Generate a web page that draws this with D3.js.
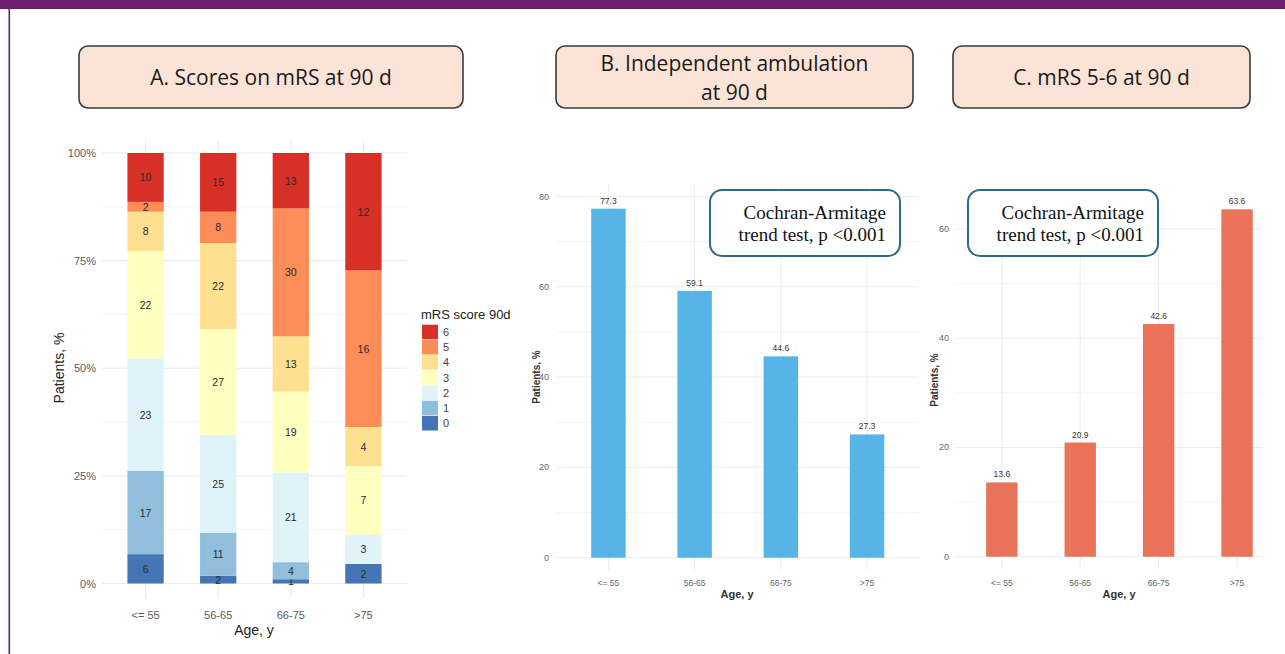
<!DOCTYPE html>
<html>
<head>
<meta charset="utf-8">
<script src="https://cdn.jsdelivr.net/npm/d3@7"></script>
<style>
  html, body { margin: 0; padding: 0; background: #fff; }
  svg { display: block; }
</style>
</head>
<body>
<svg id="fig" width="1285" height="654"></svg>
<script>
// Age groups shared by all three panels
const ageGroups = ["<= 55", "56-65", "66-75", ">75"];

// Panel A: patient counts per mRS score at 90 d, one array per score (by age group)
const mrsLevels = ["0", "1", "2", "3", "4", "5", "6"];
const mrs0 = [6, 2, 1, 2];
const mrs1 = [17, 11, 4, 0];
const mrs2 = [23, 25, 21, 3];
const mrs3 = [22, 27, 19, 7];
const mrs4 = [8, 22, 13, 4];
const mrs5 = [2, 8, 30, 16];
const mrs6 = [10, 15, 13, 12];
const mrsColors = ["#4575b4", "#91bfdb", "#e0f3f8", "#ffffbf", "#fee090", "#fc8d59", "#d73027"];

// Panel B: independent ambulation (%), panel C: mRS 5-6 (%)
const ambulationPct = [77.3, 59.1, 44.6, 27.3];
const poorOutcomePct = [13.6, 20.9, 42.6, 63.6];

const yTicksA = [0, 25, 50, 75, 100];
const yTicksB = [0, 20, 40, 60, 80];
const yTicksC = [0, 20, 40, 60];

const svg = d3.select("#fig");
const sans = "'Liberation Sans', Arial, sans-serif";

// Page frame
svg.append("rect").attr("x", 0).attr("y", 0).attr("width", 1285).attr("height", 9).attr("fill", "#6b1f6e");
svg.append("rect").attr("x", 8.5).attr("y", 0).attr("width", 1.6).attr("height", 654).attr("fill", "#6b1f6e");

// Panel header boxes
function header(x, y, w, h, lines) {
  const g = svg.append("g");
  g.append("rect").attr("x", x).attr("y", y).attr("width", w).attr("height", h)
    .attr("rx", 9).attr("fill", "#fbe4d7").attr("stroke", "#3a3a3a").attr("stroke-width", 1.6);
  const cy = y + h / 2;
  const lh = 29;
  lines.forEach((t, i) => {
    g.append("text").attr("x", x + w / 2).attr("y", cy + (i - (lines.length - 1) / 2) * lh)
      .attr("text-anchor", "middle").attr("dominant-baseline", "central")
      .style("font-family", "'Open Sans', sans-serif").style("font-size", "21px").attr("fill", "#1a1a1a")
      .text(t);
  });
}
header(79, 46, 384, 62, ["A. Scores on mRS at 90 d"]);
header(556, 46, 357, 62, ["B. Independent ambulation", "at 90 d"]);
header(953, 46, 297, 62, ["C. mRS 5-6 at 90 d"]);

// ---------- Panel A: stacked percentage bars ----------
(function () {
  const x = d3.scaleLinear().domain([0.4, 4.6]).range([102, 407]);
  const y = d3.scaleLinear().domain([0, 100]).range([583.5, 153]);
  const step = x(2) - x(1);
  const bw = step * 0.5;
  const g = svg.append("g");

  // grid
  d3.range(12.5, 100, 25).forEach(v => g.append("line").attr("x1", 102).attr("x2", 407)
    .attr("y1", y(v)).attr("y2", y(v)).attr("stroke", "#f3f3f3").attr("stroke-width", 0.8));
  yTicksA.forEach(v => g.append("line").attr("x1", 102).attr("x2", 407)
    .attr("y1", y(v)).attr("y2", y(v)).attr("stroke", "#ebebeb").attr("stroke-width", 1.1));
  ageGroups.forEach((a, i) => g.append("line").attr("x1", x(i + 1)).attr("x2", x(i + 1))
    .attr("y1", 140).attr("y2", 598).attr("stroke", "#ebebeb").attr("stroke-width", 1.1));

  const series = [mrs0, mrs1, mrs2, mrs3, mrs4, mrs5, mrs6];
  ageGroups.forEach((a, i) => {
    const total = d3.sum(series, s => s[i]);
    let cum = 0;
    series.forEach((s, k) => {
      const n = s[i];
      if (n === 0) return;
      const p0 = cum / total * 100, p1 = (cum + n) / total * 100;
      cum += n;
      g.append("rect").attr("x", x(i + 1) - bw / 2).attr("width", bw)
        .attr("y", y(p1)).attr("height", y(p0) - y(p1)).attr("fill", mrsColors[k]);
      g.append("text").attr("x", x(i + 1)).attr("y", y((p0 + p1) / 2))
        .attr("text-anchor", "middle").attr("dominant-baseline", "central")
        .style("font-family", sans).style("font-size", "10.5px").attr("fill", "#2b2b2b").text(n);
    });
  });

  // axes
  yTicksA.forEach(v => g.append("text").attr("x", 96).attr("y", y(v)).attr("text-anchor", "end")
    .attr("dominant-baseline", "central").style("font-family", sans).style("font-size", "11px")
    .attr("fill", "#5a5a5a").text(v + "%"));
  ageGroups.forEach((a, i) => g.append("text").attr("x", x(i + 1)).attr("y", 615).attr("text-anchor", "middle")
    .attr("dominant-baseline", "central").style("font-family", sans).style("font-size", "11px")
    .attr("fill", "#5a5a5a").text(a));
  g.append("text").attr("x", 254).attr("y", 630).attr("text-anchor", "middle").attr("dominant-baseline", "central")
    .style("font-family", sans).style("font-size", "14px").attr("fill", "#222").text("Age, y");
  g.append("text").attr("transform", "translate(59,368) rotate(-90)").attr("text-anchor", "middle")
    .attr("dominant-baseline", "central").style("font-family", sans).style("font-size", "14px")
    .attr("fill", "#222").text("Patients, %");

  // legend
  const lg = svg.append("g");
  lg.append("text").attr("x", 421).attr("y", 314).attr("dominant-baseline", "central")
    .style("font-family", sans).style("font-size", "13px").attr("fill", "#222").text("mRS score 90d");
  const keys = mrsLevels.slice().reverse();
  keys.forEach((lv, j) => {
    const cy = 332 + j * 15.2;
    lg.append("rect").attr("x", 422).attr("y", cy - 7.3).attr("width", 16).attr("height", 14.6)
      .attr("fill", mrsColors[mrsLevels.indexOf(lv)]);
    lg.append("text").attr("x", 443).attr("y", cy).attr("dominant-baseline", "central")
      .style("font-family", sans).style("font-size", "11px").attr("fill", "#444").text(lv);
  });
})();

// ---------- Simple bar panels (B and C) ----------
function barPanel(opts) {
  const { values, color, xRange, yDomain, yRange, ticks, gridRight, tickX, titleX, titleY, ageX, boxX } = opts;
  const x = d3.scaleLinear().domain([0.4, 4.6]).range(xRange);
  const y = d3.scaleLinear().domain(yDomain).range(yRange);
  const step = x(2) - x(1);
  const bw = step * 0.4;
  const g = svg.append("g");
  const gl = xRange[0], gr = gridRight;
  const top = y(yDomain[1]) - 12;

  const maxT = ticks[ticks.length - 1];
  d3.range(ticks[1] / 2, maxT + ticks[1] / 2 + 0.01, ticks[1]).forEach(v => {
    if (y(v) < top) return;
    g.append("line").attr("x1", gl).attr("x2", gr).attr("y1", y(v)).attr("y2", y(v))
      .attr("stroke", "#f3f3f3").attr("stroke-width", 0.8);
  });
  ticks.forEach(v => g.append("line").attr("x1", gl).attr("x2", gr).attr("y1", y(v)).attr("y2", y(v))
    .attr("stroke", "#ececec").attr("stroke-width", 1));
  ageGroups.forEach((a, i) => g.append("line").attr("x1", x(i + 1)).attr("x2", x(i + 1))
    .attr("y1", top).attr("y2", yRange[0] + 12).attr("stroke", "#ececec").attr("stroke-width", 1));

  values.forEach((v, i) => {
    g.append("rect").attr("x", x(i + 1) - bw / 2).attr("width", bw).attr("y", y(v))
      .attr("height", y(0) - y(v)).attr("fill", color);
    g.append("text").attr("x", x(i + 1)).attr("y", y(v) - 5).attr("text-anchor", "middle")
      .style("font-family", sans).style("font-size", "8.5px").attr("fill", "#333").text(v.toFixed(1));
  });

  ticks.forEach(v => g.append("text").attr("x", tickX).attr("y", y(v)).attr("text-anchor", "end")
    .attr("dominant-baseline", "central").style("font-family", sans).style("font-size", "9px")
    .attr("fill", "#666").text(v));
  ageGroups.forEach((a, i) => g.append("text").attr("x", x(i + 1)).attr("y", 583).attr("text-anchor", "middle")
    .attr("dominant-baseline", "central").style("font-family", sans).style("font-size", "8.5px")
    .attr("fill", "#666").text(a));
  g.append("text").attr("x", ageX).attr("y", 594).attr("text-anchor", "middle").attr("dominant-baseline", "central")
    .style("font-family", sans).style("font-size", "11px").style("font-weight", "bold").attr("fill", "#333")
    .text("Age, y");
  g.append("text").attr("transform", `translate(${titleX},${titleY}) rotate(-90)`).attr("text-anchor", "middle")
    .attr("dominant-baseline", "central").style("font-family", sans).style("font-size", "10px")
    .style("font-weight", "bold").attr("fill", "#333").text("Patients, %");

  // trend test annotation
  const bx = boxX, by = 190, bwid = 190, bh = 66;
  g.append("rect").attr("x", bx).attr("y", by).attr("width", bwid).attr("height", bh).attr("rx", 12)
    .attr("fill", "#fff").attr("stroke", "#2d6a8c").attr("stroke-width", 2);
  [["Cochran-Armitage", 212], ["trend test, p <0.001", 234]].forEach(([t, cy]) =>
    g.append("text").attr("x", bx + 176).attr("y", cy).attr("text-anchor", "end")
      .attr("dominant-baseline", "central").style("font-family", "'Liberation Serif', 'Times New Roman', serif")
      .style("font-size", "19px").attr("fill", "#111").text(t));
}

barPanel({
  values: ambulationPct, color: "#56b4e7",
  xRange: [556.7, 918.8], yDomain: [0, 80], yRange: [557.7, 196.5], ticks: yTicksB,
  gridRight: 918.8, tickX: 549, titleX: 536, titleY: 377, ageX: 737, boxX: 710
});
barPanel({
  values: poorOutcomePct, color: "#e87358",
  xRange: [954.8, 1284.1], yDomain: [0, 60], yRange: [556.7, 229], ticks: yTicksC,
  gridRight: 1262, tickX: 949, titleX: 934, titleY: 380, ageX: 1119, boxX: 968
});
</script>
</body>
</html>
